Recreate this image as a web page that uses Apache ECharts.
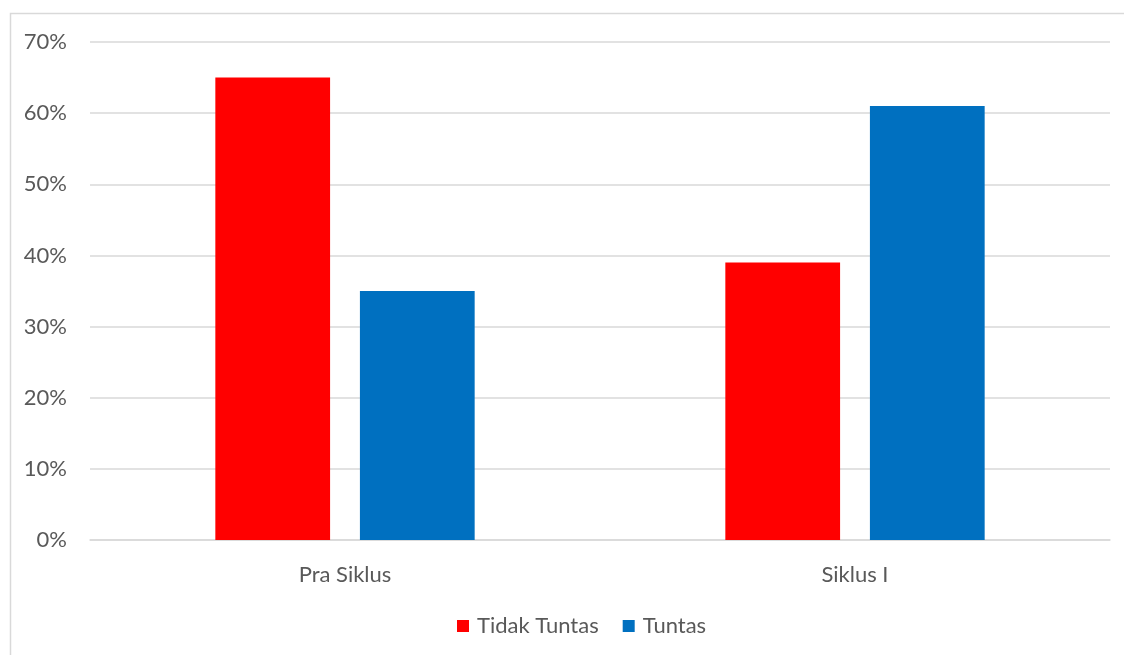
<!DOCTYPE html>
<html><head><meta charset="utf-8">
<script src="https://cdn.jsdelivr.net/npm/echarts@6/dist/echarts.min.js"></script>
<style>html,body{margin:0;padding:0;background:#fff}#c{width:1124px;height:655px}</style>
</head><body><div id="c"></div>
<script>
const categories = ['Pra Siklus', 'Siklus I'];
const tidakTuntas = [65, 39];
const tuntas = [35, 61];
const seriesNames = ['Tidak Tuntas', 'Tuntas'];
const FONT = 'Lato';
const chart = echarts.init(document.getElementById('c'), null, {renderer: 'canvas'});
chart.setOption({
  animation: false,
  textStyle: {fontFamily: FONT},
  graphic: [{type: 'rect', shape: {x: 10.5, y: 13.5, width: 1200, height: 700}, style: {fill: 'none', stroke: '#d9d9d9', lineWidth: 1.5}, silent: true}],
  grid: {left: 90, right: 14, top: 42, bottom: 115, containLabel: false},
  legend: {top: 610, left: 452, itemWidth: 12, itemHeight: 12, itemGap: 24, icon: 'rect',
    textStyle: {fontFamily: FONT, fontSize: 22, color: '#595959', padding: [0, 0, 0, 3]}, data: seriesNames},
  xAxis: {type: 'category', data: categories, axisLine: {lineStyle: {color: '#d9d9d9', width: 1.5}}, axisTick: {show: false},
    axisLabel: {fontFamily: FONT, fontSize: 22, color: '#595959', margin: 24}},
  yAxis: {type: 'value', min: 0, max: 70, interval: 10, axisLine: {show: false}, axisTick: {show: false},
    splitLine: {lineStyle: {color: '#d9d9d9', width: 1.5}},
    axisLabel: {formatter: '{value}%', fontFamily: FONT, fontSize: 22, color: '#595959', margin: 23}},
  series: [
    {name: seriesNames[0], type: 'bar', data: tidakTuntas, barWidth: '22.5%', barGap: '26%', itemStyle: {color: '#ff0000'}},
    {name: seriesNames[1], type: 'bar', data: tuntas, barWidth: '22.5%', itemStyle: {color: '#0070c0'}}
  ]
});
</script></body></html>
